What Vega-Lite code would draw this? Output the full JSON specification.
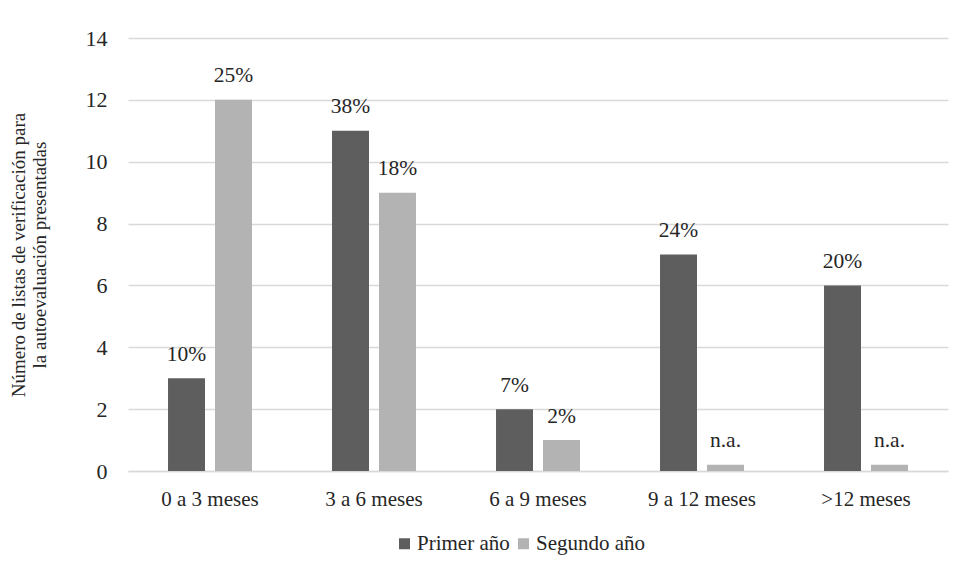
{
  "$schema": "https://vega.github.io/schema/vega-lite/v6.json",
  "autosize": {"type": "none"},
  "width": 820,
  "height": 433,
  "padding": {"left": 128, "top": 38, "right": 18, "bottom": 107},
  "background": "white",
  "config": {
    "font": "Liberation Serif",
    "view": {"stroke": null}
  },
  "data": {
    "values": [
      {"periodo": "0 a 3 meses", "serie": "Primer año", "valor": 3, "etiqueta": "10%"},
      {"periodo": "0 a 3 meses", "serie": "Segundo año", "valor": 12, "etiqueta": "25%"},
      {"periodo": "3 a 6 meses", "serie": "Primer año", "valor": 11, "etiqueta": "38%"},
      {"periodo": "3 a 6 meses", "serie": "Segundo año", "valor": 9, "etiqueta": "18%"},
      {"periodo": "6 a 9 meses", "serie": "Primer año", "valor": 2, "etiqueta": "7%"},
      {"periodo": "6 a 9 meses", "serie": "Segundo año", "valor": 1, "etiqueta": "2%"},
      {"periodo": "9 a 12 meses", "serie": "Primer año", "valor": 7, "etiqueta": "24%"},
      {"periodo": "9 a 12 meses", "serie": "Segundo año", "valor": 0.2, "etiqueta": "n.a."},
      {"periodo": ">12 meses", "serie": "Primer año", "valor": 6, "etiqueta": "20%"},
      {"periodo": ">12 meses", "serie": "Segundo año", "valor": 0.2, "etiqueta": "n.a."}
    ]
  },
  "encoding": {
    "x": {
      "field": "periodo",
      "type": "nominal",
      "sort": null,
      "scale": {"paddingInner": 0.488, "paddingOuter": 0.244},
      "axis": {
        "title": null,
        "labelAngle": 0,
        "labelFont": "Liberation Serif",
        "labelFontSize": 21,
        "labelColor": "#262626",
        "labelPadding": 17,
        "ticks": false,
        "domainColor": "#d9d9d9",
        "domainWidth": 1.5
      }
    },
    "xOffset": {
      "field": "serie",
      "type": "nominal",
      "scale": {"paddingInner": 0.213, "paddingOuter": 0}
    },
    "y": {
      "field": "valor",
      "type": "quantitative",
      "scale": {"domain": [0, 14]},
      "axis": {
        "title": ["Número de listas de verificación para", "la autoevaluación presentadas"],
        "titleFont": "Liberation Serif",
        "titleFontSize": 19,
        "titleFontWeight": "normal",
        "titleColor": "#262626",
        "titlePadding": 36,
        "titleLineHeight": 21,
        "values": [0, 2, 4, 6, 8, 10, 12, 14],
        "labelFont": "Liberation Serif",
        "labelFontSize": 22,
        "labelColor": "#262626",
        "labelPadding": 21,
        "ticks": false,
        "domain": false,
        "gridColor": "#d9d9d9",
        "gridWidth": 1.5
      }
    }
  },
  "layer": [
    {
      "mark": {"type": "bar"},
      "encoding": {
        "color": {
          "field": "serie",
          "type": "nominal",
          "scale": {"domain": ["Primer año", "Segundo año"], "range": ["#5e5e5e", "#b3b3b3"]},
          "legend": {
            "title": null,
            "orient": "none",
            "legendX": 266,
            "legendY": 495,
            "direction": "horizontal",
            "symbolType": "square",
            "symbolSize": 121,
            "symbolStrokeWidth": 0,
            "labelFont": "Liberation Serif",
            "labelFontSize": 21,
            "labelColor": "#262626",
            "labelOffset": 2,
            "columnPadding": 3
          }
        }
      }
    },
    {
      "mark": {"type": "text", "baseline": "alphabetic", "dy": -17.5, "fontSize": 21.5, "color": "#262626", "font": "Liberation Serif"},
      "encoding": {
        "text": {"field": "etiqueta"}
      }
    }
  ]
}
